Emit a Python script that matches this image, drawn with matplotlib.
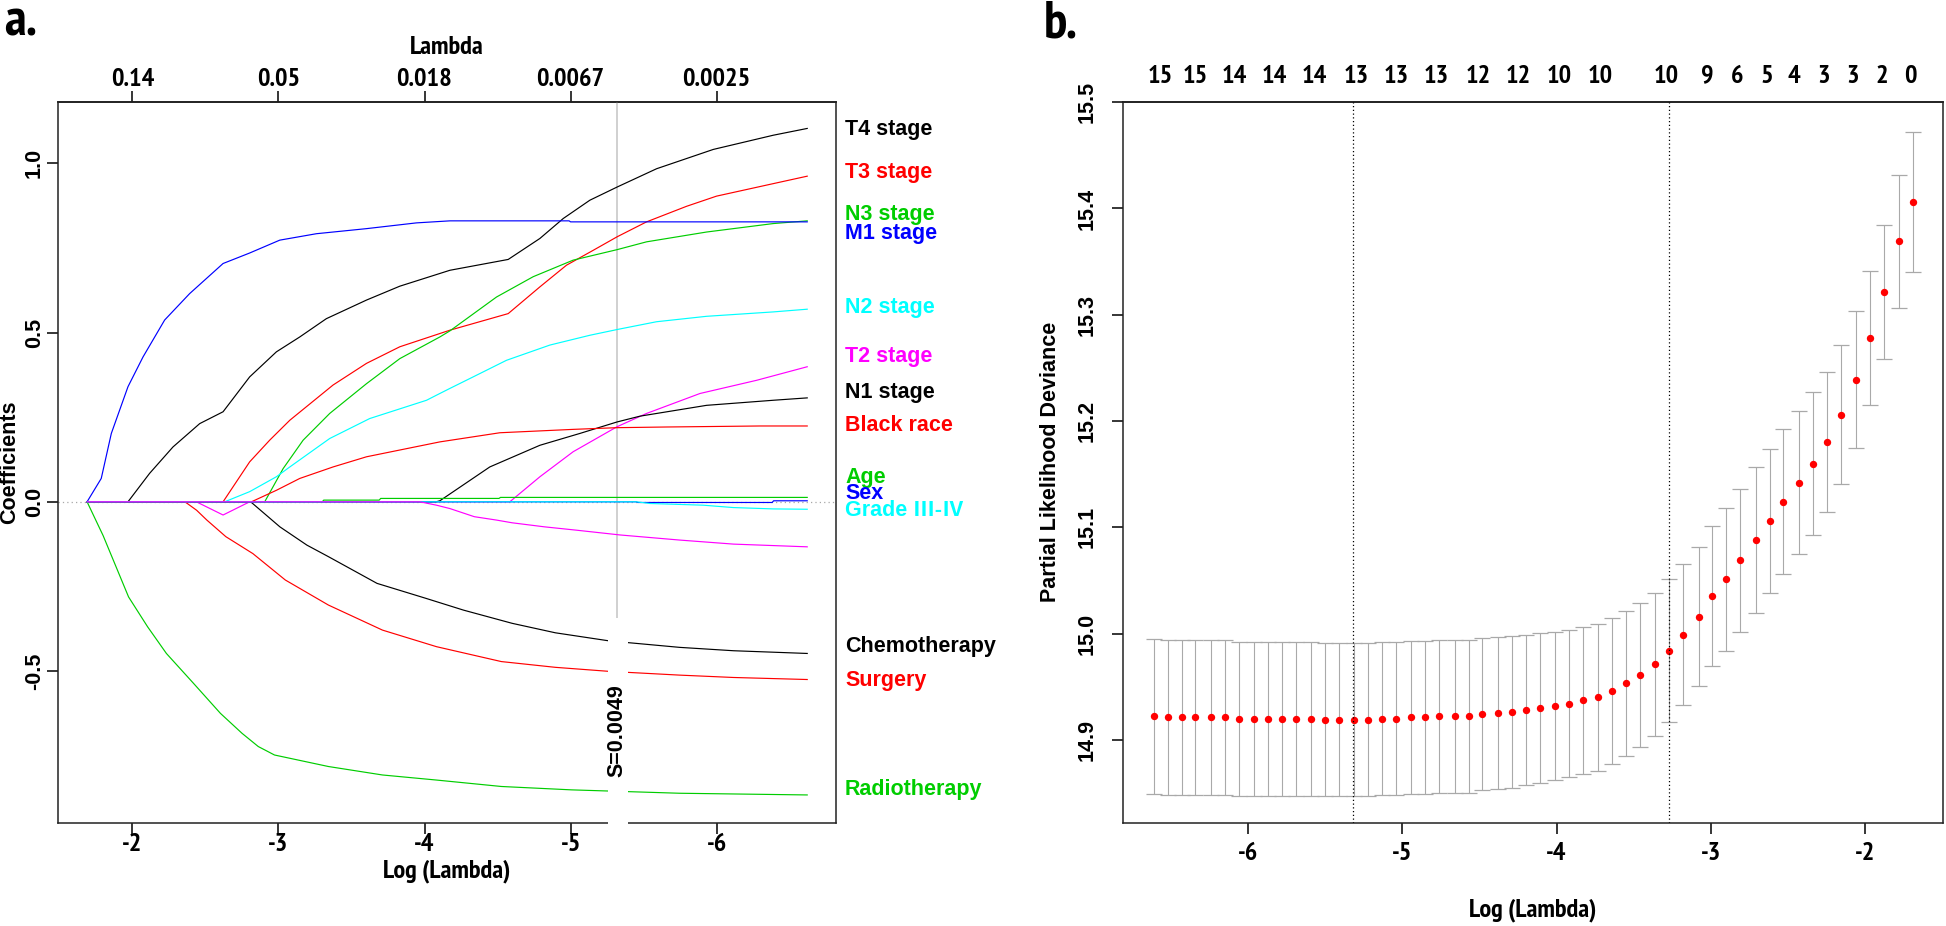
import numpy as np
import matplotlib
matplotlib.use("Agg")
import matplotlib.pyplot as plt
import matplotlib.transforms as mtransforms
from matplotlib import font_manager as fm
from matplotlib.patches import Rectangle

# ---------------- a. coefficient paths  (log lambda, coefficient) ----------------
t4_stage = [(-1.69, 0), (-1.97, 0), (-2.118, 0.084), (-2.278, 0.162), (-2.461, 0.231), (-2.621, 0.266),
            (-2.803, 0.369), (-2.986, 0.443), (-3.146, 0.487), (-3.328, 0.541), (-3.603, 0.596),
            (-3.831, 0.637), (-4.174, 0.684), (-4.573, 0.716), (-4.790, 0.778), (-4.950, 0.837),
            (-5.132, 0.891), (-5.319, 0.930), (-5.589, 0.984), (-5.977, 1.041), (-6.388, 1.083), (-6.62, 1.103)]
t3_stage = [(-1.69, 0), (-2.621, 0), (-2.803, 0.118), (-2.940, 0.182), (-3.078, 0.241), (-3.374, 0.345),
            (-3.603, 0.409), (-3.831, 0.458), (-4.174, 0.507), (-4.573, 0.556), (-4.790, 0.635),
            (-4.972, 0.699), (-5.155, 0.743), (-5.319, 0.783), (-5.520, 0.827), (-5.794, 0.873),
            (-5.999, 0.903), (-6.388, 0.940), (-6.62, 0.962)]
n3_stage = [(-1.69, 0), (-2.906, 0), (-3.032, 0.098), (-3.169, 0.182), (-3.351, 0.261), (-3.603, 0.349),
            (-3.831, 0.423), (-4.105, 0.487), (-4.174, 0.505), (-4.493, 0.605), (-4.744, 0.665),
            (-5.018, 0.714), (-5.319, 0.745), (-5.520, 0.768), (-5.931, 0.797), (-6.388, 0.822), (-6.62, 0.830)]
m1_stage = [(-1.69, 0), (-1.787, 0.069), (-1.856, 0.202), (-1.970, 0.340), (-2.073, 0.428), (-2.221, 0.537),
            (-2.392, 0.615), (-2.621, 0.704), (-2.803, 0.735), (-3.009, 0.773), (-3.260, 0.792),
            (-3.603, 0.807), (-3.945, 0.824), (-4.174, 0.830), (-4.99, 0.830), (-5.0, 0.827), (-6.62, 0.827)]
n2_stage = [(-1.69, 0), (-2.632, 0), (-2.803, 0.030), (-2.986, 0.074), (-3.078, 0.103), (-3.351, 0.187),
            (-3.625, 0.246), (-4.014, 0.300), (-4.105, 0.320), (-4.174, 0.335), (-4.333, 0.369),
            (-4.561, 0.418), (-4.858, 0.463), (-5.132, 0.492), (-5.319, 0.509), (-5.589, 0.532),
            (-5.931, 0.548), (-6.388, 0.561), (-6.62, 0.569)]
t2_stage = [(-1.69, 0), (-2.438, 0), (-2.621, -0.039), (-2.803, 0), (-4.584, 0), (-4.790, 0.074),
            (-5.018, 0.148), (-5.319, 0.222), (-5.520, 0.261), (-5.886, 0.320), (-6.274, 0.359), (-6.62, 0.399)]
n1_stage = [(-1.69, 0), (-4.08, 0), (-4.105, 0.003), (-4.447, 0.103), (-4.790, 0.167), (-5.064, 0.202),
            (-5.319, 0.236), (-5.475, 0.253), (-5.931, 0.285), (-6.388, 0.300), (-6.62, 0.307)]
black_race = [(-1.69, 0), (-2.815, 0), (-2.986, 0.034), (-3.146, 0.069), (-3.374, 0.103), (-3.603, 0.133),
              (-3.831, 0.153), (-4.105, 0.177), (-4.516, 0.204), (-5.018, 0.214), (-5.319, 0.219),
              (-5.657, 0.221), (-6.297, 0.224), (-6.62, 0.224)]
age = [(-1.69, 0), (-3.30, 0), (-3.31, 0.005), (-3.69, 0.005), (-3.70, 0.010), (-4.51, 0.010),
       (-4.52, 0.013), (-6.62, 0.013)]
sex = [(-1.69, 0), (-5.45, 0), (-5.46, -0.002), (-6.38, -0.002), (-6.39, 0.003), (-6.62, 0.003)]
grade = [(-1.69, 0), (-5.45, 0), (-5.543, -0.005), (-5.908, -0.010), (-6.114, -0.017), (-6.388, -0.021),
         (-6.62, -0.022)]
other = [(-1.69, 0), (-3.968, 0), (-4.082, -0.010), (-4.174, -0.020), (-4.341, -0.044), (-4.493, -0.054),
         (-4.600, -0.062), (-4.822, -0.074), (-5.044, -0.084), (-5.340, -0.098), (-5.746, -0.113),
         (-6.116, -0.125), (-6.62, -0.133)]
chemotherapy = [(-1.69, 0), (-2.81, 0), (-3.010, -0.074), (-3.195, -0.128), (-3.342, -0.162), (-3.675, -0.241),
                (-4.008, -0.285), (-4.267, -0.320), (-4.600, -0.359), (-4.896, -0.387), (-5.266, -0.411),
                (-5.746, -0.430), (-6.116, -0.440), (-6.62, -0.448)]
surgery = [(-1.69, 0), (-2.36, 0), (-2.44, -0.025), (-2.51, -0.054), (-2.64, -0.103), (-2.825, -0.153),
           (-3.047, -0.231), (-3.342, -0.305), (-3.712, -0.379), (-4.082, -0.428), (-4.526, -0.472),
           (-4.896, -0.489), (-5.266, -0.501), (-5.746, -0.512), (-6.116, -0.519), (-6.62, -0.525)]
radiotherapy = [(-1.69, 0), (-1.80, -0.10), (-1.974, -0.281), (-2.104, -0.369), (-2.233, -0.448),
                (-2.418, -0.536), (-2.603, -0.625), (-2.751, -0.684), (-2.862, -0.723), (-2.973, -0.748),
                (-3.342, -0.782), (-3.712, -0.807), (-4.082, -0.822), (-4.526, -0.841), (-5.007, -0.851),
                (-5.746, -0.861), (-6.62, -0.866)]

label_names = ["T4 stage", "T3 stage", "N3 stage", "M1 stage", "N2 stage", "T2 stage", "N1 stage",
               "Black race", "Age", "Sex", "Grade Ⅲ-Ⅳ", "Chemotherapy", "Surgery", "Radiotherapy"]
label_y = [1.10, 0.972, 0.848, 0.792, 0.574, 0.430, 0.322, 0.226, 0.072, 0.025, -0.027, -0.427, -0.529, -0.850]
label_cols = ["black", "#FF0000", "#00CD00", "#0000FF", "#00FFFF", "#FF00FF", "black",
              "#FF0000", "#00CD00", "#0000FF", "#00FFFF", "black", "#FF0000", "#00CD00"]

lambda_ticks = [-2, -3, -4, -5, -6]
lambda_labels = ["0.14", "0.05", "0.018", "0.0067", "0.0025"]
s_lambda = 0.0049

# ---------------- b. cross validation ----------------
log_lambda = [-6.61, -6.52, -6.43, -6.34, -6.24, -6.15, -6.06, -5.96, -5.87, -5.78, -5.69,
              -5.59, -5.50, -5.41, -5.31, -5.22, -5.13, -5.04, -4.94, -4.85, -4.76,
              -4.66, -4.57, -4.48, -4.38, -4.29, -4.20, -4.11, -4.01, -3.92, -3.83,
              -3.73, -3.64, -3.55, -3.46, -3.36, -3.27, -3.18, -3.08, -2.99, -2.90,
              -2.81, -2.71, -2.62, -2.53, -2.43, -2.34, -2.25, -2.16, -2.06, -1.97,
              -1.88, -1.78, -1.69]
cv_mean = [14.922, 14.921, 14.921, 14.921, 14.921, 14.921, 14.920, 14.920, 14.920, 14.920, 14.920,
           14.920, 14.919, 14.919, 14.919, 14.919, 14.920, 14.920, 14.921, 14.921, 14.922,
           14.922, 14.922, 14.924, 14.925, 14.926, 14.928, 14.930, 14.932, 14.934, 14.937,
           14.940, 14.946, 14.953, 14.961, 14.971, 14.984, 14.999, 15.016, 15.035, 15.051,
           15.069, 15.088, 15.106, 15.124, 15.142, 15.160, 15.180, 15.206, 15.239, 15.278,
           15.321, 15.369, 15.406]
cv_sd = [0.073, 0.073, 0.073, 0.073, 0.073, 0.0725, 0.0725, 0.0725, 0.0725, 0.0725, 0.0725,
         0.0725, 0.072, 0.072, 0.072, 0.072, 0.072, 0.072, 0.072, 0.072, 0.072,
         0.072, 0.072, 0.0716, 0.0716, 0.0713, 0.0707, 0.0705, 0.0696, 0.069, 0.0695,
         0.069, 0.0686, 0.068, 0.068, 0.0674, 0.067, 0.0664, 0.0655, 0.066, 0.067,
         0.0674, 0.0687, 0.068, 0.0683, 0.0675, 0.067, 0.066, 0.0657, 0.0645, 0.063,
         0.063, 0.0623, 0.0658]
nz_pos = [-6.57, -6.34, -6.09, -5.83, -5.57, -5.30, -5.04, -4.78, -4.51, -4.25, -3.98,
          -3.72, -3.29, -3.02, -2.83, -2.64, -2.46, -2.27, -2.08, -1.89, -1.71]
nz_lab = ["15", "15", "14", "14", "14", "13", "13", "13", "12", "12", "10",
          "10", "10", "9", "6", "5", "4", "3", "3", "2", "0"]
lambda_min = -5.318
lambda_1se = -3.274

arial = "Liberation Sans"
plt.rcParams["axes.unicode_minus"] = False
plt.rcParams["font.family"] = [arial, "DejaVu Sans"]


def is_bold(f):
    w = f.weight
    return w in ("bold", 700) or (isinstance(w, int) and w >= 700)


# a narrow / condensed bold face for the axis numbers, if one is installed
narrow_file = None
for key in ("Narrow", "Condensed"):
    for f in sorted(fm.fontManager.ttflist, key=lambda e: e.name):
        if (key in f.name or key.lower() in str(f.stretch) or key in f.fname) and is_bold(f) \
                and f.style == "normal" and "Semi" not in f.fname and "Extra" not in f.fname:
            narrow_file = f.fname
            break
    if narrow_file:
        break


def nfp(size):
    if narrow_file:
        return fm.FontProperties(fname=narrow_file, size=size)
    return fm.FontProperties(family=arial, weight="bold", size=size)


W, H = 1946, 926
fs = 15.5      # regular-width bold texts
ns = 19        # narrow axis numbers / titles
fig = plt.figure(figsize=(W / 100, H / 100), dpi=100)
axL = fig.add_axes([58.3 / W, 1 - 822.7 / H, 777.7 / W, 721 / H])
axR = fig.add_axes([1122.7 / W, 1 - 822.7 / H, 820.6 / W, 721 / H])

# ---------------- left panel ----------------
axL.axhline(0, color="#A8A8A8", ls=(0, (1, 2.5)), lw=0.9, zorder=1)
axL.axvline(np.log(s_lambda), color="#C4C4C4", lw=1.1, zorder=1)

paths = [t4_stage, t3_stage, n3_stage, m1_stage, n2_stage, t2_stage, n1_stage, black_race, age,
         chemotherapy, surgery, radiotherapy, sex, grade, other]
cols = ["black", "#FF0000", "#00CD00", "#0000FF", "#00FFFF", "#FF00FF", "black", "#FF0000", "#00CD00",
        "black", "#FF0000", "#00CD00", "#0000FF", "#00FFFF", "#FF00FF"]
for p, c in zip(paths, cols):
    x, y = zip(*p)
    axL.plot(x, y, color=c, lw=0.85, zorder=2)

axL.set_xlim(-1.493, -6.817)
axL.set_ylim(-0.948, 1.182)
axL.set_xticks(lambda_ticks, [str(t) for t in lambda_ticks], fontproperties=nfp(ns))
axL.set_yticks([-0.5, 0.0, 0.5, 1.0], ["-0.5", "0.0", "0.5", "1.0"], fontweight="bold", fontsize=fs,
               rotation=90, va="center")
axL.tick_params(axis="x", length=7.7, width=1.1, pad=0)
axL.tick_params(axis="y", length=7.7, width=1.1, pad=2)
topL = axL.secondary_xaxis("top")
topL.set_xticks(lambda_ticks, lambda_labels, fontproperties=nfp(ns))
topL.tick_params(length=7.7, width=1.1, pad=0)
for ax in (axL, axR):
    for s in ax.spines.values():
        s.set_linewidth(1.1)
        s.set_color("#222222")
topL.spines["top"].set_linewidth(1.1)

# white gap behind the S= label
gap = Rectangle((-5.39, -0.975), 0.135, 0.631, facecolor="white", edgecolor="none",
                transform=axL.transData, clip_on=False, zorder=5)
axL.add_patch(gap)
axL.text(np.log(s_lambda), -0.677, "S=0.0049", rotation=90, ha="center", va="center",
         fontsize=fs, fontweight="bold", zorder=6)

tr = mtransforms.blended_transform_factory(axL.transAxes, axL.transData)
for name, yy, c in zip(label_names, label_y, label_cols):
    axL.text(1.0116, yy, name, transform=tr, color=c, fontsize=fs, fontweight="bold",
             family=[arial, "Noto Sans CJK SC"], ha="left", va="center", clip_on=False)

fig.text(447 / W, 1 - 47 / H, "Lambda", ha="center", va="center", fontproperties=nfp(ns))
fig.text(447 / W, 1 - 871 / H, "Log (Lambda)", ha="center", va="center", fontproperties=nfp(ns))
fig.text(10 / W, 1 - 462 / H, "Coefficients", rotation=90, ha="center", va="center", weight="bold", size=fs)
fig.text(4 / W, 1 - 36 / H, "a.", ha="left", va="baseline", fontproperties=nfp(38))

# ---------------- right panel ----------------
axR.errorbar(log_lambda, cv_mean, yerr=cv_sd, fmt="none", ecolor="#A9A9A9", elinewidth=0.8,
             capsize=5.8, capthick=0.9, zorder=2)
axR.plot(log_lambda, cv_mean, "o", color="#FF0000", ms=5.3, mec="none", zorder=3)
axR.axvline(lambda_min, color="black", ls=(0, (1, 2)), lw=0.9, zorder=4)
axR.axvline(lambda_1se, color="black", ls=(0, (1, 2)), lw=0.9, zorder=4)

axR.set_xlim(-6.811, -1.494)
axR.set_ylim(14.822, 15.5005)
axR.set_xticks([-6, -5, -4, -3, -2], ["-6", "-5", "-4", "-3", "-2"], fontproperties=nfp(ns))
axR.set_yticks([14.9, 15.0, 15.1, 15.2, 15.3, 15.4, 15.5],
               ["14.9", "15.0", "15.1", "15.2", "15.3", "15.4", "15.5"],
               fontweight="bold", fontsize=fs, rotation=90, va="center")
axR.tick_params(axis="x", length=7.7, width=1.1, pad=6.5)
axR.tick_params(axis="y", length=7.7, width=1.1, pad=10.5)
topR = axR.secondary_xaxis("top")
topR.set_xticks(nz_pos, nz_lab, fontproperties=nfp(ns))
topR.tick_params(length=0, pad=10.2)
topR.spines["top"].set_linewidth(1.1)

fig.text(1051 / W, 1 - 462 / H, "Partial Likelihood Deviance", rotation=90, ha="center", va="center",
         weight="bold", size=fs)
fig.text(1533 / W, 1 - 910 / H, "Log (Lambda)", ha="center", va="center", fontproperties=nfp(ns))
fig.text(1044 / W, 1 - 37 / H, "b.", ha="left", va="baseline", fontproperties=nfp(38))

fig.savefig("out.png", dpi=100)
